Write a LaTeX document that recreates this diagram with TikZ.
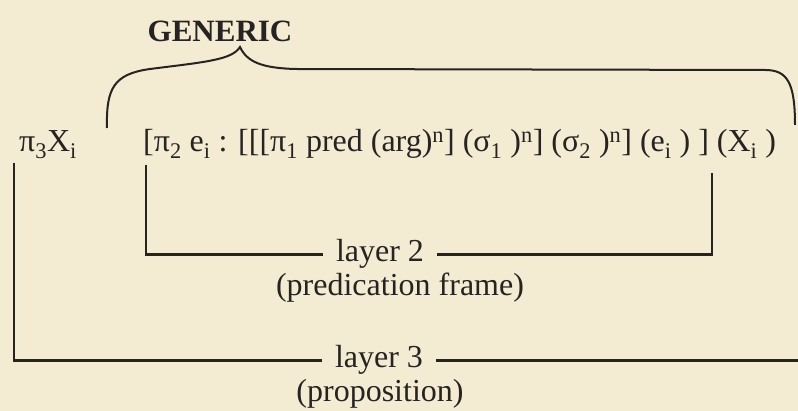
\documentclass[tikz,border=0pt]{standalone}
\usepackage{fontspec}
\setmainfont{Liberation Serif}
\usetikzlibrary{calc, positioning}
\definecolor{paper}{HTML}{F4EBD3}
\definecolor{ink}{HTML}{262422}

\begin{document}
\begin{tikzpicture}[x=1pt, y=-1pt, line width=2.4pt, draw=ink,
    txt/.style={inner sep=0pt, text=ink, font=\fontsize{32}{36}\selectfont},
    lay/.style={txt, inner xsep=12pt}]
  \fill[paper] (0,0) rectangle (798,411);
  \useasboundingbox (0,0) rectangle (798,411);

  % heading and the formula
  \node[txt, anchor=base, font=\fontsize{31}{36}\selectfont\bfseries] (generic) at (220,42) {GENERIC};
  \node[txt, anchor=base west] (pi3) at (18,152) {π\textsubscript{3}X\textsubscript{i}};
  \node[txt, anchor=base west] (frm) at (142,152) {[π\textsubscript{2} e\textsubscript{i} : [[[π\textsubscript{1} pred (arg)\textsuperscript{n}] (σ\textsubscript{1} )\textsuperscript{n}] (σ\textsubscript{2} )\textsuperscript{n}] (e\textsubscript{i} ) ] (X\textsubscript{i} )};

  % layer labels
  \node[lay, anchor=base] (lay2) at (380,262) {layer 2};
  \node[txt, anchor=base] (pfr) at (400,296) {(predication frame)};
  \node[lay, anchor=base] (lay3) at (379,368) {layer 3};
  \node[txt, anchor=base] (prop) at (380,402) {(proposition)};

  \coordinate (brl) at (107,128);
  \coordinate (brtip) at (240,47);
  \coordinate (brr) at (795,125);
  \coordinate (l2a) at (146,165);
  \coordinate (l2b) at (712,173);
  \coordinate (l3a) at (14,163);
  \coordinate (l3b) at (798,363);

  % the brace under GENERIC
  \draw[line width=2pt] (brl) .. controls (106,88) and (114,74) .. (150,69)
    .. controls (205,62) and (232,60) .. (brtip)
    .. controls (247,62) and (262,68) .. (295,69) -- (765,70)
    .. controls (787,70) and (795,82) .. (brr);

  % the two brackets
  \draw (l2a) |- (lay2.west);
  \draw (lay2.east) -| (l2b);
  \draw (l3a) |- (lay3.west);
  \draw (lay3.east) -- (lay3.east -| l3b);
\end{tikzpicture}
\end{document}
